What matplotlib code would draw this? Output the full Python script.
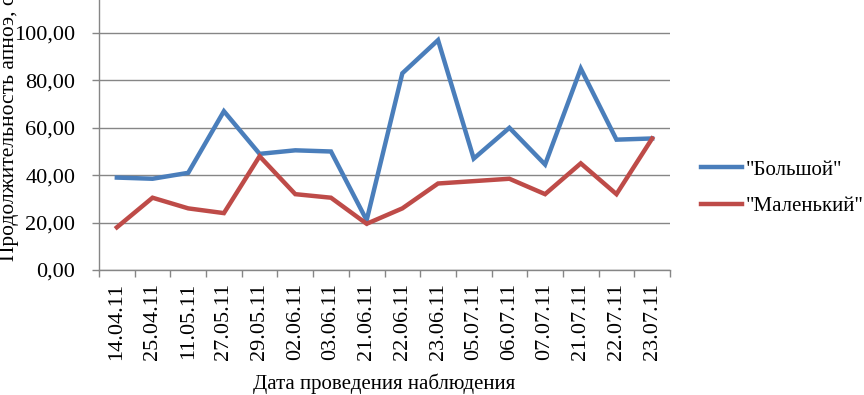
import matplotlib
matplotlib.use("Agg")
import matplotlib.pyplot as plt
import numpy as np

dates = ["14.04.11", "25.04.11", "11.05.11", "27.05.11", "29.05.11", "02.06.11",
         "03.06.11", "21.06.11", "22.06.11", "23.06.11", "05.07.11", "06.07.11",
         "07.07.11", "21.07.11", "22.07.11", "23.07.11"]
big = [39, 38.5, 41, 67, 49, 50.5, 50, 21, 83, 97, 47, 60, 44.5, 85, 55, 55.5]
small = [18, 30.5, 26, 24, 48, 32, 30.5, 19.5, 26, 36.5, 37.5, 38.5, 32, 45, 32, 55.5]
yticks = [0, 20, 40, 60, 80, 100, 120]

plt.rcParams['font.family'] = ['Liberation Serif', 'DejaVu Serif']

W, H = 864, 395
fig = plt.figure(figsize=(W / 100, H / 100), dpi=100)
# axes: left at x=99px, right 670px, y=0 at 270px, y=120 at -14px
x0, x1 = 99, 670
yb, yt = 270, 270 - 120 * 2.37
ax = fig.add_axes([x0 / W, 1 - yb / H, (x1 - x0) / W, (yb - yt) / H])

x = np.arange(len(dates))
ax.plot(x, big, color='#4a7ebb', lw=3.2, label='"Большой"', solid_joinstyle='miter')
ax.plot(x, small, color='#be4b48', lw=3.2, label='"Маленький"', solid_joinstyle='miter')

ax.set_xlim(-0.5, len(dates) - 0.5)
ax.set_ylim(0, 120)
ax.set_yticks(yticks)
ax.set_yticklabels([f"{v:.2f}".replace('.', ',') for v in yticks], fontsize=16)
ax.yaxis.grid(True, color='#868686', lw=1)
ax.set_axisbelow(True)

ax.set_xticks(x)
ax.set_xticklabels(dates, rotation=90, fontsize=16)
ax.set_xticks(np.arange(-0.5, len(dates)), minor=True)
ax.tick_params(axis='x', which='major', length=0, pad=9)
ax.tick_params(axis='x', which='minor', length=5, color='#868686', width=1)
ax.tick_params(axis='y', length=5, color='#868686', width=1, pad=12)

for s in ['top', 'right']:
    ax.spines[s].set_visible(False)
for s in ['left', 'bottom']:
    ax.spines[s].set_color('#868686')
    ax.spines[s].set_linewidth(1)

ax.set_ylabel('Продолжительность апноэ, с', fontsize=15.5)
ax.yaxis.set_label_coords((19 - x0) / (x1 - x0), 0.5)
ax.set_xlabel('Дата проведения наблюдения', fontsize=15, labelpad=10)

fig.legend(loc='center left', bbox_to_anchor=(701 / W, 1 - 188 / H), frameon=False,
           fontsize=15, handlelength=1.95, handletextpad=0.2, labelspacing=0.8,
           borderpad=0, borderaxespad=0)

fig.savefig('out.png', dpi=100)
